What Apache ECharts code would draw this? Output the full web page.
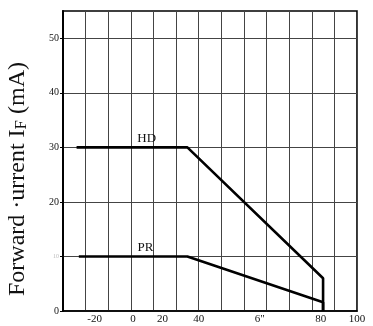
<!DOCTYPE html>
<html>
<head>
<meta charset="utf-8">
<script src="https://cdn.jsdelivr.net/npm/echarts@6/dist/echarts.min.js"></script>
<style>
  html, body { margin: 0; padding: 0; background: #fff; }
  #chart { width: 373px; height: 326px; }
</style>
</head>
<body>
<div id="chart"></div>
<script>
// Forward current derating vs ambient temperature (°C)
const seriesNames = ['HD', 'PR'];
const hdCurve = [[-24, 30], [25, 30], [85, 6], [85, 0]];
const prCurve = [[-23, 10], [25, 10], [85, 1.6], [85, 0]];

// Printed temperature labels and where they sit along the axis
const xTickValues = [-16, 1, 14, 30, 57, 84, 100];
const xTickLabels = ['-20', '0', '20', '40', '6"', '80', '100'];

// Current labels (mA)
const yTickValues = [0, 10, 20, 30, 40, 50];
const yTickLabels = ['0', '10', '20', '30', '40', '50'];

const serif = 'Liberation Serif';
const chart = echarts.init(document.getElementById('chart'), null, { renderer: 'canvas' });

function curveSeries(name, data, labelAt) {
  return {
    name: name,
    type: 'line',
    data: data,
    symbol: 'none',
    silent: true,
    lineStyle: { color: '#000', width: 2.6 },
    markPoint: {
      symbol: 'circle',
      symbolSize: 0,
      data: [{ coord: labelAt }],
      label: {
        show: true,
        position: 'top',
        distance: 2,
        formatter: name,
        color: '#111',
        fontFamily: serif,
        fontSize: 13
      }
    }
  };
}

chart.setOption({
  animation: false,
  backgroundColor: '#fff',
  grid: {
    left: 63, right: 16, top: 11, bottom: 15,
    outerBoundsMode: 'none',
    containLabel: false,
    show: true,
    borderColor: '#000',
    borderWidth: 1.6
  },
  xAxis: {
    type: 'value',
    min: -30, max: 100, interval: 10,
    axisLine: { show: true, onZero: false, lineStyle: { color: '#000', width: 1.6 } },
    axisTick: { show: false },
    splitLine: { show: true, lineStyle: { color: '#444', width: 1 } },
    axisLabel: {
      customValues: xTickValues,
      formatter: v => xTickLabels[xTickValues.indexOf(v)] ?? '',
      color: '#111',
      fontFamily: serif,
      fontSize: 11,
      margin: 3
    }
  },
  yAxis: {
    type: 'value',
    min: 0, max: 55, interval: 5,
    name: 'Forward \u00b7urrent I{sub|F} (mA)',
    nameLocation: 'middle',
    nameRotate: 90,
    nameGap: 33,
    nameTextStyle: {
      color: '#111',
      fontFamily: serif,
      fontSize: 24,
      padding: [0, 36, 0, 0],
      rich: {
        sub: { fontFamily: serif, fontSize: 17, color: '#111', verticalAlign: 'bottom', padding: [6, 0, 0, 0] }
      }
    },
    axisLine: { show: true, onZero: false, lineStyle: { color: '#000', width: 2 } },
    axisTick: {
      show: true,
      customValues: yTickValues,
      length: 3,
      lineStyle: { color: '#000', width: 1 }
    },
    splitLine: { show: true, lineStyle: { color: '#444', width: 1 } },
    axisLabel: {
      customValues: yTickValues,
      formatter: v => {
        const t = yTickLabels[yTickValues.indexOf(v)] ?? '';
        return v === 10 ? '{faint|' + t + '}' : t;
      },
      color: '#111',
      fontFamily: serif,
      fontSize: 10,
      margin: 4,
      rich: {
        faint: { color: '#bbb', fontSize: 6, fontFamily: serif }
      }
    }
  },
  series: [
    curveSeries(seriesNames[0], hdCurve, [7, 30]),
    curveSeries(seriesNames[1], prCurve, [6.5, 10])
  ]
});
</script>
</body>
</html>
